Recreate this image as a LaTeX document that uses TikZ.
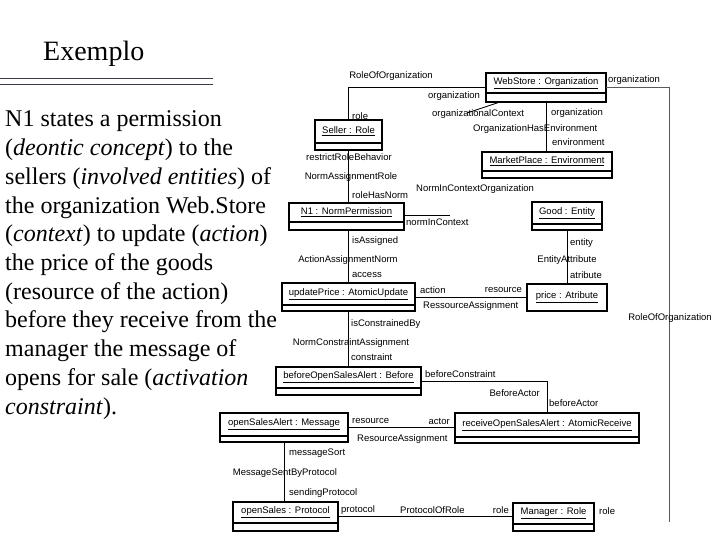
\documentclass[tikz,border=0pt]{standalone}
\usepackage{fontspec}
\setmainfont{Liberation Serif}
\newfontfamily\diagfont{Liberation Sans}
\tikzset{
  objbox/.style={draw, line width=2.3pt, inner sep=0pt, outer sep=0pt},
  divline/.style={line width=1.4pt},
  objlabel/.style={font=\diagfont\fontsize{9.5}{11}\selectfont, inner sep=0pt},
  lbl/.style={font=\diagfont\fontsize{9.5}{11}\selectfont, inner sep=0pt},
  conn/.style={line width=0.9pt},
  body/.style={font=\fontsize{24}{28.7}\selectfont, inner sep=0pt, anchor=base west}
}
\newcommand{\umlobj}[7]{%
  \node[objbox, minimum width={#4-#2}, minimum height={#6-#3}] (#1) at ({(#2+#4)/2},{(#3+#6)/2}) {};
  \draw[divline] (#2,#5) -- (#4,#5);
  \node[objlabel] (#1-t) at ({(#2+#4)/2},{(#3+#5)/2}) {\underline{#7}};
}
\begin{document}
\begin{tikzpicture}[x=1pt,y=-1pt]
\useasboundingbox (0,0) rectangle (720,540);
\fill[white] (0,0) rectangle (720,540);
% title
\node[font=\fontsize{28}{32}\selectfont, inner sep=0pt, anchor=base west] (title) at (43,61) {Exemplo};
\draw[color={rgb,255:red,58;green,58;blue,74}, line width=0.9pt] (0,78) -- (213,78) (0,84) -- (213,84);
% body text
\node[body] (l1) at (5,127) {N1 states a permission};
\node[body] (l2) at (5,155.7) {(\textit{deontic concept}) to the};
\node[body] (l3) at (5,184.4) {sellers (\textit{involved entities}) of};
\node[body] (l4) at (5,213.1) {the organization Web.Store};
\node[body] (l5) at (5,241.8) {(\textit{context}) to update (\textit{action})};
\node[body] (l6) at (5,270.5) {the price of the goods};
\node[body] (l7) at (5,299.2) {(resource of the action)};
\node[body] (l8) at (5,327.9) {before they receive from the};
\node[body] (l9) at (5,356.6) {manager the message of};
\node[body] (l10) at (5,385.3) {opens for sale (\textit{activation}};
\node[body] (l11) at (5,414) {\textit{constraint}).};
% objects
\umlobj{webstore}{486}{73}{606}{93}{102}{WebStore : Organization}
\umlobj{seller}{315}{120}{382}{143}{150}{Seller : Role}
\umlobj{market}{482}{152}{612}{171}{178}{MarketPlace : Environment}
\umlobj{n1}{289}{203}{404}{222}{230}{N1 : NormPermission}
\umlobj{good}{532}{202}{602}{224}{230}{Good : Entity}
\umlobj{upd}{282}{283}{415}{305}{311}{updatePrice : AtomicUpdate}
\umlobj{price}{527}{284}{607}{311}{311}{price : Atribute}
\umlobj{before}{276}{367}{421}{388}{395}{beforeOpenSalesAlert : Before}
\umlobj{osa}{220}{413}{348}{436}{442}{openSalesAlert : Message}
\umlobj{receive}{455}{413}{639}{437}{443}{receiveOpenSalesAlert : AtomicReceive}
\umlobj{proto}{233}{502}{338}{523}{531}{openSales : Protocol}
\umlobj{mgr}{513}{503}{594}{524}{531}{Manager : Role}
% coordinates
\coordinate (nc1) at (450,215);
\coordinate (oc1) at (467,113);
\coordinate (oc2) at (500,102);
\coordinate (rend) at (669,522);
% connectors
\draw[conn] (seller.north) |- (webstore.west);
\draw[conn] (webstore.south) -- (webstore.south |- market.north);
\draw[conn, black!65] (webstore.east) -| (rend);
\draw[conn] (seller.south) -- (seller.south |- n1.north);
\draw[conn] (n1.east |- nc1) -- (nc1);
\draw[conn] (oc1) -- (oc2);
\draw[conn] (seller.south |- n1.south) -- (seller.south |- upd.north);
\draw[conn] (good.south) -- (good.south |- price.north);
\draw[conn] (upd.east) -- (upd.east -| price.west);
\draw[conn] (seller.south |- upd.south) -- (seller.south |- before.north);
\draw[conn] (before.east) -| (receive.north);
\draw[conn] (osa.east) -- (osa.east -| receive.west);
\draw[conn] (osa.south) -- (osa.south |- proto.north);
\draw[conn] (proto.east) -- (proto.east -| mgr.west);
% labels
\node[lbl] (t1) at (391,76) {RoleOfOrganization};
\node[lbl, anchor=west] (t2) at (352,116) {role};
\node[lbl, anchor=west] (t3) at (428,96) {organization};
\node[lbl, anchor=west] (t4) at (432,114) {organizationalContext};
\node[lbl, anchor=west] (t5) at (473,129) {OrganizationHasEnvironment};
\node[lbl, anchor=west] (t6) at (551,113) {organization};
\node[lbl, anchor=west] (t7) at (552,142) {environment};
\node[lbl, anchor=west] (t8) at (608,80) {organization};
\node[lbl] (t9) at (670,318) {RoleOfOrganization};
\node[lbl] (t10) at (349,157) {restrictRoleBehavior};
\node[lbl] (t11) at (351,177) {NormAssignmentRole};
\node[lbl, anchor=west] (t12) at (352,195) {roleHasNorm};
\node[lbl, anchor=west] (t13) at (416,189) {NormInContextOrganization};
\node[lbl, anchor=west] (t14) at (406,222) {normInContext};
\node[lbl, anchor=west] (t15) at (352,241) {isAssigned};
\node[lbl] (t16) at (348,260) {ActionAssignmentNorm};
\node[lbl, anchor=west] (t17) at (352,275) {access};
\node[lbl, anchor=west] (t18) at (420,290) {action};
\node[lbl, anchor=east] (t19) at (522,290) {resource};
\node[lbl, anchor=west] (t20) at (423,306) {RessourceAssignment};
\node[lbl, anchor=west] (t21) at (570,243) {entity};
\node[lbl] (t22) at (567,260) {EntityAttribute};
\node[lbl, anchor=west] (t23) at (570,275) {atribute};
\node[lbl, anchor=west] (t24) at (351,324) {isConstrainedBy};
\node[lbl] (t25) at (351,343) {NormConstraintAssignment};
\node[lbl, anchor=west] (t26) at (351,357) {constraint};
\node[lbl, anchor=west] (t27) at (425,374) {beforeConstraint};
\node[lbl, anchor=east] (t28) at (540,393) {BeforeActor};
\node[lbl, anchor=west] (t29) at (549,403) {beforeActor};
\node[lbl, anchor=west] (t30) at (352,421) {resource};
\node[lbl, anchor=east] (t31) at (450,421) {actor};
\node[lbl, anchor=west] (t32) at (357,439) {ResourceAssignment};
\node[lbl, anchor=west] (t33) at (289,453) {messageSort};
\node[lbl] (t34) at (285,473) {MessageSentByProtocol};
\node[lbl, anchor=west] (t35) at (289,493) {sendingProtocol};
\node[lbl, anchor=west] (t36) at (341,510) {protocol};
\node[lbl, anchor=west] (t37) at (400,510) {ProtocolOfRole};
\node[lbl, anchor=east] (t38) at (509,510) {role};
\node[lbl, anchor=west] (t39) at (599,511) {role};
\end{tikzpicture}
\end{document}
